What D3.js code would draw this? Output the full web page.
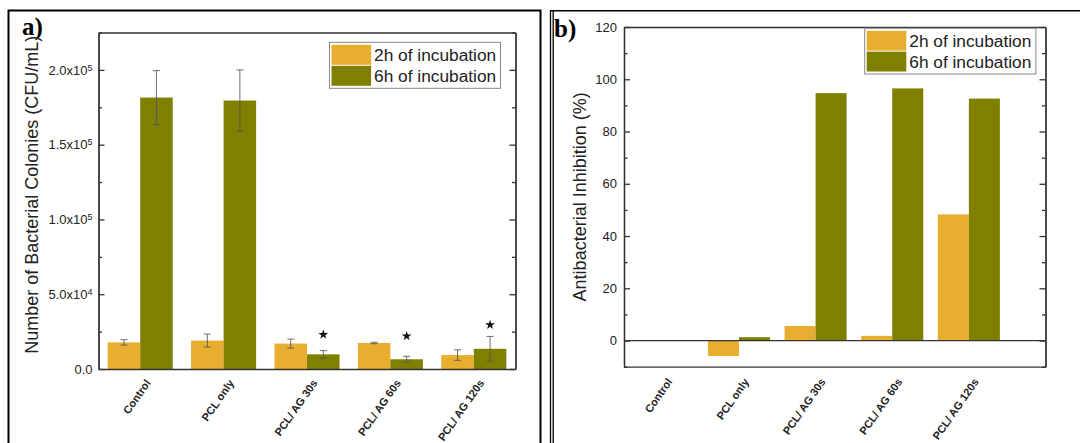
<!DOCTYPE html>
<html><head><meta charset="utf-8">
<script src="https://cdn.jsdelivr.net/npm/d3@7"></script>
<style>body{margin:0;background:#fff;} svg{display:block;font-family:Arial,"Liberation Sans",sans-serif;}</style>
</head><body><svg id="c" width="1080" height="443"></svg>
<script>
const categories = ["Control", "PCL only", "PCL/ AG 30s", "PCL/ AG 60s", "PCL/ AG 120s"];
const seriesNames = ["2h of incubation", "6h of incubation"];
const colonies2h = [17800, 19000, 17000, 17400, 9300];
const colonies6h = [181500, 179500, 9800, 6500, 13500];
const err2h = [1800, 4300, 3000, 500, 3500];
const err6h = [18000, 20500, 2500, 2000, 8300];
const starValues = [null, null, 23000, 22000, 29500];
const inhibition2h = [0, -5.9, 5.6, 1.8, 48.3];
const inhibition6h = [0, 1.3, 94.7, 96.5, 92.6];
const coloniesTicks = [0, 50000, 100000, 150000, 200000];
const coloniesMinor = [25000, 75000, 125000, 175000, 225000];
const inhibitionTicks = [0, 20, 40, 60, 80, 100, 120];
const inhibitionMinor = [-10, 10, 30, 50, 70, 90, 110];

const colors = ["#E8AE30", "#808000"];
const axisColor = "#333";
const svg = d3.select("#c");

// outer frames
svg.append("rect").attr("x", 8.5).attr("y", 10.5).attr("width", 532).attr("height", 470)
  .attr("fill", "none").attr("stroke", "#000").attr("stroke-width", 2);
svg.append("line").attr("x1", 550.5).attr("x2", 550.5).attr("y1", 10).attr("y2", 443).attr("stroke", "#000").attr("stroke-width", 1.3);
svg.append("line").attr("x1", 553.2).attr("x2", 553.2).attr("y1", 10).attr("y2", 443).attr("stroke", "#000").attr("stroke-width", 1.3);
svg.append("line").attr("x1", 550).attr("x2", 1080).attr("y1", 10.7).attr("y2", 10.7).attr("stroke", "#000").attr("stroke-width", 1.6);

svg.append("text").attr("x", 22).attr("y", 35).text("a)")
  .attr("font-family", "'Liberation Serif','Times New Roman',serif").attr("font-weight", "bold").attr("font-size", 25);
svg.append("text").attr("x", 554).attr("y", 37).text("b)")
  .attr("font-family", "'Liberation Serif','Times New Roman',serif").attr("font-weight", "bold").attr("font-size", 25);

function styleAxis(g) {
  g.selectAll("path,line").attr("stroke", axisColor).attr("stroke-width", 1.3);
  g.selectAll("text").attr("fill", "#222");
}

function sciFormat(sel) {
  sel.each(function(d) {
    const t = d3.select(this);
    t.text(null);
    if (d === 0) { t.text("0.0"); return; }
    const e = Math.floor(Math.log10(d));
    const m = d / Math.pow(10, e);
    t.append("tspan").text(m.toFixed(1) + "x10");
    t.append("tspan").text(e).attr("font-size", 9).attr("dy", "-0.45em");
  });
}

// ---------- Panel a ----------
const A = {l: 98.5, r: 515.5, t: 32.5, b: 369};
const xa = d3.scaleBand().domain(categories).range([A.l, A.r]);
const ya = d3.scaleLinear().domain([0, 225000]).range([A.b, A.t]);
const bwa = xa.bandwidth() * 0.39;
const ga = svg.append("g");

const barsA = [colonies2h, colonies6h];
const errsA = [err2h, err6h];
barsA.forEach((vals, s) => {
  ga.append("g").selectAll("rect").data(vals).join("rect")
    .attr("x", (d, i) => xa(categories[i]) + xa.bandwidth() / 2 + (s === 0 ? -bwa : 0))
    .attr("width", bwa)
    .attr("y", d => ya(d))
    .attr("height", d => ya(0) - ya(d))
    .attr("fill", colors[s]);
});
barsA.forEach((vals, s) => {
  const cx = i => xa(categories[i]) + xa.bandwidth() / 2 + (s === 0 ? -bwa / 2 : bwa / 2);
  const g = ga.append("g").attr("stroke", "#555").attr("stroke-opacity", 0.85).attr("stroke-width", 1);
  vals.forEach((v, i) => {
    const e = errsA[s][i];
    g.append("line").attr("x1", cx(i)).attr("x2", cx(i)).attr("y1", ya(v - e)).attr("y2", ya(v + e));
    g.append("line").attr("x1", cx(i) - 3.5).attr("x2", cx(i) + 3.5).attr("y1", ya(v - e)).attr("y2", ya(v - e));
    g.append("line").attr("x1", cx(i) - 3.5).attr("x2", cx(i) + 3.5).attr("y1", ya(v + e)).attr("y2", ya(v + e));
  });
});
ga.append("g").selectAll("path").data(starValues.map((v, i) => ({v, i})).filter(d => d.v !== null)).join("path")
  .attr("d", d3.symbol(d3.symbolStar, 30))
  .attr("transform", d => `translate(${xa(categories[d.i]) + xa.bandwidth() / 2 + bwa / 2},${ya(d.v)})`)
  .attr("fill", "#111");

// axes a
ga.append("g").attr("transform", `translate(${A.l},0)`)
  .call(d3.axisLeft(ya).tickValues(coloniesMinor).tickSizeInner(-3.5).tickSizeOuter(0).tickFormat(""))
  .call(styleAxis);
ga.append("g").attr("transform", `translate(${A.l},0)`)
  .call(d3.axisLeft(ya).tickValues(coloniesTicks).tickSizeInner(-6).tickSizeOuter(0).tickPadding(6))
  .call(g => g.selectAll("text").attr("font-size", 13).call(sciFormat))
  .call(styleAxis);
ga.append("g").attr("transform", `translate(${A.r},0)`)
  .call(d3.axisRight(ya).tickValues(coloniesMinor).tickSizeInner(-3.5).tickSizeOuter(0).tickFormat(""))
  .call(styleAxis);
ga.append("g").attr("transform", `translate(${A.r},0)`)
  .call(d3.axisRight(ya).tickValues(coloniesTicks).tickSizeInner(-6).tickSizeOuter(0).tickFormat(""))
  .call(styleAxis);
ga.append("g").attr("transform", `translate(0,${A.t})`)
  .call(d3.axisTop(xa).tickSize(0).tickFormat(""))
  .call(styleAxis);
ga.append("g").attr("transform", `translate(0,${A.b})`)
  .call(d3.axisBottom(xa).tickSize(0))
  .call(g => g.selectAll("text").attr("font-size", 11).attr("font-weight", "bold")
    .attr("text-anchor", "end").attr("y", 0).attr("dy", 0)
    .attr("transform", "translate(11,14) rotate(-55)"))
  .call(styleAxis);
ga.append("text").attr("transform", `translate(37.5,${(A.t + A.b) / 2 - 6}) rotate(-90)`)
  .attr("text-anchor", "middle").attr("font-size", 18).attr("fill", "#222")
  .text("Number of Bacterial Colonies (CFU/mL)");

// legend
function legend(x0, y0, w, h, sw) {
  const g = svg.append("g");
  g.append("rect").attr("x", x0).attr("y", y0).attr("width", w).attr("height", h)
    .attr("fill", "#fff").attr("stroke", "#888").attr("stroke-width", 1);
  seriesNames.forEach((n, i) => {
    g.append("rect").attr("x", x0 + 2).attr("y", y0 + 2 + i * (h - 4) / 2 + 0.5)
      .attr("width", sw).attr("height", (h - 4) / 2 - 1).attr("fill", colors[i]);
    g.append("text").attr("x", x0 + sw + 5).attr("y", y0 + 2 + (i + 0.5) * (h - 4) / 2 + 6)
      .attr("font-size", 17.3).attr("fill", "#222").text(n);
  });
}
legend(329.5, 42.3, 171, 46, 39.6);

// ---------- Panel b ----------
const B = {l: 624, r: 1045.5, t: 27, b: 366.7};
const xb = d3.scaleLinear().domain([0.5, 6]).range([B.l, B.r]);
const yb = d3.scaleLinear().domain([-10, 120]).range([B.b, B.t]);
const bwb = (xb(2) - xb(1)) * 0.405;
const gb = svg.append("g");
[inhibition2h, inhibition6h].forEach((vals, s) => {
  gb.append("g").selectAll("rect").data(vals).join("rect")
    .attr("x", (d, i) => xb(i + 1) + (s === 0 ? -bwb : 0))
    .attr("width", bwb)
    .attr("y", d => yb(Math.max(0, d)))
    .attr("height", d => Math.abs(yb(d) - yb(0)))
    .attr("fill", colors[s]);
});
gb.append("line").attr("x1", B.l).attr("x2", B.r).attr("y1", yb(0)).attr("y2", yb(0))
  .attr("stroke", axisColor).attr("stroke-width", 1.3);
gb.append("g").attr("transform", `translate(${B.l},0)`)
  .call(d3.axisLeft(yb).tickValues(inhibitionMinor).tickSizeInner(-3.5).tickSizeOuter(0).tickFormat(""))
  .call(styleAxis);
gb.append("g").attr("transform", `translate(${B.l},0)`)
  .call(d3.axisLeft(yb).tickValues(inhibitionTicks).tickSizeInner(-6).tickSizeOuter(0).tickPadding(7))
  .call(g => g.selectAll("text").attr("font-size", 13))
  .call(styleAxis);
gb.append("g").attr("transform", `translate(${B.r},0)`)
  .call(d3.axisRight(yb).tickValues(inhibitionMinor).tickSizeInner(-3.5).tickSizeOuter(0).tickFormat(""))
  .call(styleAxis);
gb.append("g").attr("transform", `translate(${B.r},0)`)
  .call(d3.axisRight(yb).tickValues(inhibitionTicks).tickSizeInner(-6).tickSizeOuter(0).tickFormat(""))
  .call(styleAxis);
gb.append("g").attr("transform", `translate(0,${B.t})`)
  .call(d3.axisTop(xb).tickSize(0).tickFormat(""))
  .call(styleAxis);
gb.append("g").attr("transform", `translate(0,${B.b})`)
  .call(d3.axisBottom(xb).tickValues([1, 2, 3, 4, 5]).tickFormat(i => categories[i - 1]).tickSize(0))
  .call(g => g.selectAll("text").attr("font-size", 11).attr("font-weight", "bold")
    .attr("text-anchor", "end").attr("y", 0).attr("dy", 0)
    .attr("transform", "translate(10,15) rotate(-55)"))
  .call(styleAxis);
gb.append("text").attr("transform", `translate(586,${(B.t + B.b) / 2}) rotate(-90)`)
  .attr("text-anchor", "middle").attr("font-size", 18).attr("fill", "#222")
  .text("Antibacterial Inhibition (%)");
legend(864.7, 28.3, 171.2, 45.7, 39.6);
</script></body></html>
